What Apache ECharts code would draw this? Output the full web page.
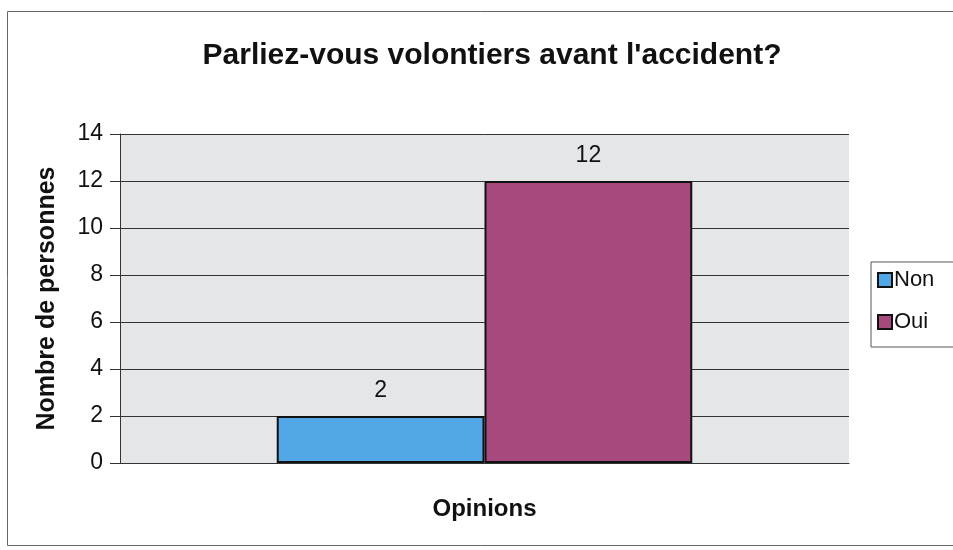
<!DOCTYPE html>
<html>
<head>
<meta charset="utf-8">
<script src="https://cdn.jsdelivr.net/npm/echarts@6/dist/echarts.min.js"></script>
<style>
  html, body { margin: 0; padding: 0; background: #fff; }
  #chart { width: 953px; height: 550px; }
</style>
</head>
<body>
<div id="chart"></div>
<script>
// données
const categories = [''];
const seriesNames = ['Non', 'Oui'];
const nonValues = [2];
const ouiValues = [12];
const yTicks = [0, 2, 4, 6, 8, 10, 12, 14];

const colors = ['#52a7e6', '#a64a7d'];
const font = 'Liberation Sans, Arial, sans-serif';

const chart = echarts.init(document.getElementById('chart'));

const option = {
    animation: false,
    backgroundColor: '#ffffff',
    title: {
        text: "Parliez-vous volontiers avant l'accident?",
        left: 487,
        textAlign: 'center',
        top: 36,
        textStyle: { fontFamily: font, fontSize: 30, fontWeight: 'bold', color: '#111' }
    },
    graphic: [{
        type: 'rect',
        shape: { x: 7.5, y: 11.5, width: 960, height: 534 },
        style: { fill: 'none', stroke: '#666', lineWidth: 1 },
        silent: true,
        z: -1
    }],
    legend: {
        orient: 'vertical',
        left: 871,
        top: 262,
        padding: [7, 30, 14, 6],
        itemGap: 20,
        itemWidth: 14,
        itemHeight: 14,
        borderColor: '#555',
        borderWidth: 1,
        icon: 'rect',
        data: seriesNames,
        textStyle: { fontFamily: font, fontSize: 22, color: '#111', padding: [0, 0, 0, -3] }
    },
    grid: {
        left: 120,
        right: 104,
        top: 134,
        bottom: 87,
        show: true,
        backgroundColor: '#e5e6e7',
        borderWidth: 0
    },
    xAxis: {
        type: 'category',
        data: categories,
        name: 'Opinions',
        nameLocation: 'middle',
        nameGap: 34,
        nameTextStyle: { fontFamily: font, fontSize: 24, fontWeight: 'bold', color: '#111' },
        axisLine: { show: true, lineStyle: { color: '#333', width: 1 } },
        axisTick: { show: false },
        axisLabel: { show: false }
    },
    yAxis: {
        type: 'value',
        min: yTicks[0],
        max: yTicks[yTicks.length - 1],
        interval: 2,
        name: 'Nombre de personnes',
        nameLocation: 'middle',
        nameGap: 60,
        nameTextStyle: { fontFamily: font, fontSize: 25, fontWeight: 'bold', color: '#111' },
        axisLine: { show: true, lineStyle: { color: '#333', width: 1 } },
        axisTick: { show: true, length: 10, lineStyle: { color: '#333' } },
        axisLabel: { fontFamily: font, fontSize: 23, color: '#111', margin: 17 },
        splitLine: { show: true, lineStyle: { color: '#333', width: 1 } }
    },
    series: [
        {
            name: seriesNames[0],
            type: 'bar',
            data: nonValues,
            barGap: '0%',
            barCategoryGap: '43%',
            itemStyle: { color: colors[0], borderColor: '#111', borderWidth: 2 },
            label: { show: true, position: 'top', distance: 14, fontFamily: font, fontSize: 23, color: '#111' }
        },
        {
            name: seriesNames[1],
            type: 'bar',
            data: ouiValues,
            barGap: '0%',
            barCategoryGap: '43%',
            itemStyle: { color: colors[1], borderColor: '#111', borderWidth: 2 },
            label: { show: true, position: 'top', distance: 14, fontFamily: font, fontSize: 23, color: '#111' }
        }
    ]
};

chart.setOption(option);
</script>
</body>
</html>
